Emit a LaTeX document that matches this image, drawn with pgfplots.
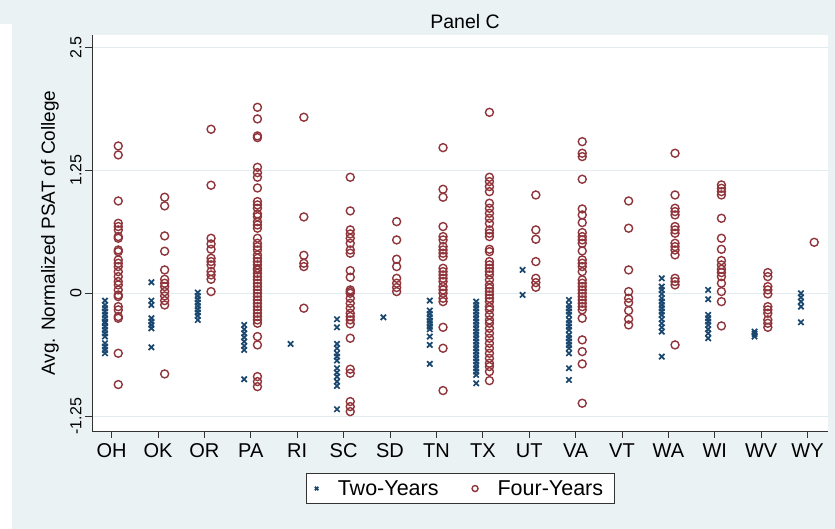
\documentclass[border=0pt]{standalone}
\usepackage{pgfplots}
\pgfplotsset{compat=1.18}
\usepackage{fontspec}
\setmainfont{Liberation Sans}
\definecolor{stbg}{HTML}{EAF2F3}
\definecolor{stgrid}{HTML}{E2ECEF}
\definecolor{stnavy}{HTML}{1A476F}
\definecolor{stmaroon}{HTML}{90353B}

\begin{document}
\begin{tikzpicture}
\fill[stbg] (0bp,0bp) rectangle (835bp,529bp);
\fill[white] (0bp,0bp) rectangle (12bp,505bp);
\begin{axis}[
  at={(92bp,98bp)}, anchor=south west,
  scale only axis, width=736bp, height=396bp,
  xmin=0.577, xmax=16.44, ymin=-1.40, ymax=2.625,
  axis x line*=bottom, axis y line*=left,
  axis line style={-, black!80, line width=0.9bp},
  axis background/.style={fill=white},
  xtick={1,...,16},
  xticklabels={OH,OK,OR,PA,RI,SC,SD,TN,TX,UT,VA,VT,WA,WI,WV,WY},
  ytick={-1.25,0,1.25,2.5},
  yticklabels={-1.25,0,1.25,2.5},
  tick align=outside, major tick length=7bp,
  tick style={black!80, line width=0.9bp},
  ymajorgrids, major grid style={stgrid, line width=1.2bp},
  xticklabel style={font=\fontsize{20bp}{24bp}\selectfont, yshift=-2bp},
  yticklabel style={font=\fontsize{16bp}{19bp}\selectfont, rotate=90, anchor=south},
  ylabel={Avg. Normalized PSAT of College},
  every axis y label/.style={at={(rel axis cs:0,0.5)}, xshift=-42bp, rotate=90, anchor=center, font=\fontsize{19bp}{23bp}\selectfont},
  title={Panel C},
  every axis title/.style={at={(rel axis cs:0.5,1)}, anchor=base, xshift=5bp, yshift=6.7bp, font=\fontsize{19.5bp}{23bp}\selectfont},
  legend columns=-1,
  legend style={at={(0.5,0)}, anchor=north, yshift=-42bp, draw=black!80, line width=0.8bp, fill=white,
    inner xsep=9bp, inner ysep=5bp, font=\fontsize{21.5bp}{25bp}\selectfont,
    /tikz/every odd column/.append style={column sep=17.5bp},
    /tikz/every even column/.append style={column sep=31.5bp}},
]
% Two-Years (state index, value)
\addplot[only marks, mark=x, mark size=3.8bp, color=stnavy, mark options={line width=1.7bp},
  x filter/.expression={x-0.143},
  legend image code/.code={\draw[stnavy, line width=1.3bp] plot[mark=x, mark size=2.4bp] coordinates {(0,0)};}]
coordinates {
(1,-0.075)(1,-0.119)(1,-0.152)(1,-0.186)(1,-0.22)(1,-0.254)(1,-0.288)(1,-0.305)(1,-0.339)(1,-0.373)(1,-0.407)(1,-0.44)(1,-0.508)(1,-0.542)(1,-0.576)(1,-0.61)
(2,0.112)(2,-0.075)(2,-0.119)(2,-0.254)(2,-0.288)(2,-0.322)(2,-0.356)(2,-0.549)
(3,0.007)(3,-0.027)(3,-0.061)(3,-0.095)(3,-0.129)(3,-0.163)(3,-0.196)(3,-0.23)(3,-0.271)
(4,-0.322)(4,-0.366)(4,-0.407)(4,-0.447)(4,-0.491)(4,-0.535)(4,-0.576)(4,-0.874)
(5,-0.515)
(6,-0.264)(6,-0.346)(6,-0.515)(6,-0.559)(6,-0.61)(6,-0.644)(6,-0.684)(6,-0.762)(6,-0.806)(6,-0.847)(6,-0.898)(6,-0.942)(6,-1.179)
(7,-0.244)
(8,-0.075)(8,-0.176)(8,-0.21)(8,-0.244)(8,-0.278)(8,-0.305)(8,-0.339)(8,-0.366)(8,-0.44)(8,-0.525)(8,-0.718)
(9,-0.085)(9,-0.119)(9,-0.152)(9,-0.186)(9,-0.22)(9,-0.254)(9,-0.288)(9,-0.322)(9,-0.356)(9,-0.39)(9,-0.423)(9,-0.457)
(9,-0.491)(9,-0.525)(9,-0.559)(9,-0.593)(9,-0.627)(9,-0.661)(9,-0.694)(9,-0.728)(9,-0.762)(9,-0.796)(9,-0.83)(9,-0.915)
(10,0.237)(10,-0.017)
(11,-0.068)(11,-0.119)(11,-0.152)(11,-0.186)(11,-0.22)(11,-0.271)(11,-0.305)(11,-0.339)(11,-0.373)(11,-0.423)(11,-0.457)(11,-0.491)(11,-0.525)(11,-0.559)(11,-0.61)(11,-0.762)(11,-0.881)
(13,0.152)(13,0.068)(13,0.034)(13,-0.007)(13,-0.051)(13,-0.085)(13,-0.119)(13,-0.152)(13,-0.186)(13,-0.22)(13,-0.264)(13,-0.305)(13,-0.346)(13,-0.39)(13,-0.644)
(14,0.034)(14,-0.061)(14,-0.22)(14,-0.254)(14,-0.288)(14,-0.322)(14,-0.366)(14,-0.407)(14,-0.457)
(15,-0.39)(15,-0.413)(15,-0.44)
(16,0)(16,-0.041)(16,-0.085)(16,-0.136)(16,-0.295)
};
\addlegendentry{Two-Years}
% Four-Years
\addplot[only marks, mark=o, mark size=4bp, color=stmaroon, mark options={line width=1.4bp},
  x filter/.expression={x+0.143},
  legend image code/.code={\draw[stmaroon, line width=1.2bp] plot[mark=o, mark size=3bp] coordinates {(0,0)};}]
coordinates {
(1,1.497)(1,1.406)(1,0.938)(1,0.711)(1,0.678)(1,0.644)(1,0.576)(1,0.559)(1,0.44)(1,0.423)(1,0.339)(1,0.305)(1,0.271)
(1,0.22)(1,0.169)(1,0.119)(1,0.085)(1,0.034)(1,-0.017)(1,-0.034)(1,-0.136)(1,-0.169)(1,-0.237)(1,-0.254)(1,-0.61)(1,-0.928)
(2,0.976)(2,0.888)(2,0.583)(2,0.427)(2,0.237)(2,0.142)(2,0.102)(2,0.068)(2,0.017)(2,-0.027)(2,-0.075)(2,-0.119)(2,-0.82)
(3,1.667)(3,1.098)(3,0.559)(3,0.501)(3,0.447)(3,0.356)(3,0.322)(3,0.288)(3,0.22)(3,0.186)(3,0.142)(3,0.017)
(4,1.89)(4,1.772)(4,1.599)(4,1.582)(4,1.28)(4,1.226)(4,1.179)(4,1.07)(4,0.932)(4,0.898)(4,0.864)(4,0.806)(4,0.779)
(4,0.728)(4,0.694)(4,0.661)(4,0.559)(4,0.508)(4,0.474)(4,0.44)(4,0.39)(4,0.356)(4,0.322)(4,0.288)(4,0.254)(4,0.237)
(4,0.203)(4,0.169)(4,0.136)(4,0.102)(4,0.068)(4,0.034)(4,0)(4,-0.034)(4,-0.068)(4,-0.102)(4,-0.136)(4,-0.169)
(4,-0.203)(4,-0.237)(4,-0.271)(4,-0.305)(4,-0.44)(4,-0.525)(4,-0.847)(4,-0.898)(4,-0.949)
(5,1.789)(5,0.776)(5,0.386)(5,0.305)(5,0.271)(5,-0.152)
(6,1.179)(6,0.837)(6,0.644)(6,0.603)(6,0.559)(6,0.508)(6,0.44)(6,0.407)(6,0.23)(6,0.163)(6,0.034)(6,0.017)(6,0)
(6,-0.051)(6,-0.102)(6,-0.152)(6,-0.203)(6,-0.237)(6,-0.271)(6,-0.312)(6,-0.457)(6,-0.772)(6,-0.813)(6,-1.101)(6,-1.152)(6,-1.203)
(7,0.728)(7,0.542)(7,0.346)(7,0.271)(7,0.152)(7,0.102)(7,0.058)(7,0.017)
(8,1.48)(8,1.057)(8,0.976)(8,0.678)(8,0.576)(8,0.542)(8,0.474)(8,0.44)(8,0.407)(8,0.373)(8,0.254)(8,0.22)
(8,0.186)(8,0.152)(8,0.119)(8,0.068)(8,0.034)(8,0)(8,-0.051)(8,-0.085)(8,-0.346)(8,-0.559)(8,-0.989)
(9,1.839)(9,1.179)(9,1.135)(9,1.084)(9,1.033)(9,0.915)(9,0.864)(9,0.813)(9,0.762)(9,0.711)(9,0.644)(9,0.61)(9,0.576)
(9,0.447)(9,0.423)(9,0.322)(9,0.288)(9,0.254)(9,0.22)(9,0.186)(9,0.136)(9,0.085)(9,0.051)(9,0.017)(9,-0.017)
(9,-0.051)(9,-0.085)(9,-0.136)(9,-0.169)(9,-0.22)(9,-0.271)(9,-0.305)(9,-0.356)(9,-0.407)(9,-0.457)(9,-0.508)
(9,-0.559)(9,-0.61)(9,-0.661)(9,-0.711)(9,-0.745)(9,-0.796)(9,-0.888)
(10,0.999)(10,0.644)(10,0.549)(10,0.322)(10,0.152)(10,0.108)(10,0.061)
(11,1.541)(11,1.423)(11,1.389)(11,1.159)(11,0.857)(11,0.796)(11,0.718)(11,0.617)(11,0.576)(11,0.542)(11,0.508)
(11,0.43)(11,0.339)(11,0.305)(11,0.271)(11,0.22)(11,0.136)(11,0.102)(11,0.068)(11,0.034)(11,0)(11,-0.034)
(11,-0.068)(11,-0.102)(11,-0.136)(11,-0.169)(11,-0.254)(11,-0.474)(11,-0.593)(11,-0.718)(11,-1.118)
(12,0.938)(12,0.661)(12,0.237)(12,0.017)(12,-0.051)(12,-0.095)(12,-0.176)(12,-0.264)(12,-0.322)
(13,1.423)(13,0.999)(13,0.864)(13,0.83)(13,0.796)(13,0.678)(13,0.644)(13,0.61)(13,0.508)(13,0.474)(13,0.44)
(13,0.39)(13,0.152)(13,0.119)(13,0.085)(13,-0.525)
(14,1.101)(14,1.067)(14,1.033)(14,0.999)(14,0.762)(14,0.559)(14,0.447)(14,0.332)(14,0.288)(14,0.244)(14,0.21)
(14,0.169)(14,0.102)(14,0.017)(14,-0.085)(14,-0.332)
(15,0.21)(15,0.169)(15,0.068)(15,0.034)(15,-0.007)(15,-0.136)(15,-0.169)(15,-0.203)(15,-0.271)(15,-0.305)(15,-0.346)
(16,0.518)
};
\addlegendentry{Four-Years}
\end{axis}
\end{tikzpicture}
\end{document}
